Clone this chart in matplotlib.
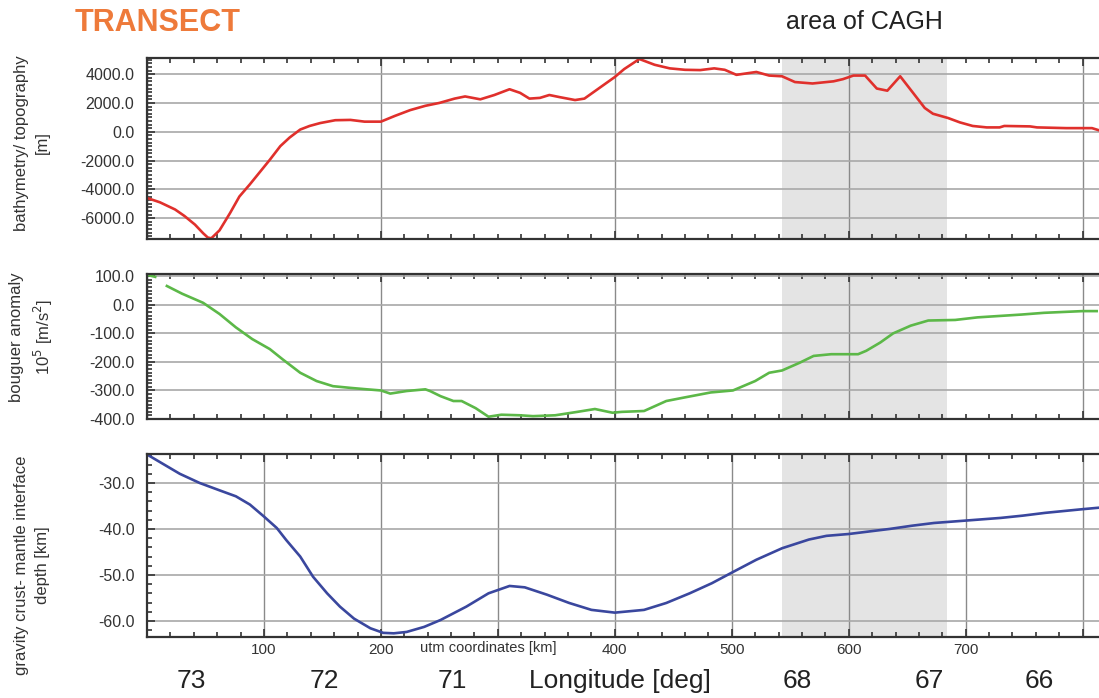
import matplotlib.pyplot as plt
from matplotlib.ticker import MultipleLocator, FormatStrFormatter
import matplotlib.transforms as mtransforms
import numpy as np

plt.rcParams['font.family'] = ['Liberation Sans', 'DejaVu Sans']

# bathymetry / topography [m] along the transect (utm km)
topo_km = [0, 11, 24, 32, 41, 48, 52, 55, 62, 71, 79, 88, 97, 105, 114, 122, 131, 139, 148,
           161, 174, 186, 200, 212, 225, 238, 250, 263, 272, 285, 297, 310, 319, 327, 336,
           344, 353, 366, 374, 387, 400, 408, 421, 434, 447, 460, 473, 485, 494, 504, 521,
           532, 543, 554, 569, 587, 595, 604, 614, 624, 633, 644, 655, 665, 672, 685, 695,
           706, 718, 729, 733, 755, 761, 786, 808, 814]
topo_m = [-4600, -4900, -5400, -5850, -6450, -7050, -7350, -7400, -6850, -5650, -4500, -3650,
          -2750, -1950, -1000, -400, 150, 400, 600, 800, 820, 700, 700, 1100, 1500, 1800,
          2000, 2300, 2450, 2250, 2550, 2950, 2700, 2300, 2350, 2550, 2400, 2200, 2300,
          3050, 3800, 4350, 5050, 4650, 4400, 4300, 4280, 4400, 4300, 3950, 4150, 3900,
          3850, 3450, 3350, 3500, 3650, 3900, 3900, 3000, 2850, 3850, 2700, 1650, 1250, 950,
          650, 400, 300, 300, 400, 370, 300, 250, 250, 100]

# bouguer anomaly [10^5 m/s^2]  (nan = gap in the profile)
boug_km = [0, 7, 12, 17, 30, 48, 62, 76, 90, 105, 116, 131, 145, 159, 174, 188, 200, 208,
           222, 238, 242, 251, 262, 269, 281, 292, 303, 319, 330, 349, 368, 383, 398, 406,
           425, 444, 459, 482, 501, 520, 532, 543, 558, 570, 585, 608, 615, 627, 638, 653,
           668, 691, 710, 748, 767, 800, 812]
boug_val = [105, 98, np.nan, 66, 39, 7, -32, -79, -120, -155, -191, -238, -267, -285, -291,
            -296, -300, -311, -302, -296, -302, -320, -337, -337, -362, -392, -385, -387,
            -390, -387, -375, -365, -378, -375, -372, -337, -325, -307, -300, -267, -238,
            -230, -203, -179, -173, -173, -161, -132, -100, -73, -55, -53, -44, -34, -28,
            -22, -22]

# gravity crust-mantle interface depth [km]
moho_km = [0, 12, 28, 45, 62, 76, 88, 100, 111, 119, 131, 142, 154, 165, 177, 191, 202, 211,
           222, 237, 251, 273, 292, 310, 323, 342, 361, 380, 400, 425, 444, 464, 483, 500,
           521, 543, 566, 581, 600, 619, 635, 654, 673, 699, 730, 749, 768, 800, 813]
moho_depth = [-23.8, -25.6, -28.0, -30.0, -31.6, -32.9, -34.7, -37.3, -39.8, -42.4, -46.0,
              -50.4, -54.0, -56.9, -59.5, -61.6, -62.6, -62.7, -62.4, -61.3, -59.8, -56.9,
              -54.0, -52.4, -52.7, -54.3, -56.1, -57.6, -58.2, -57.6, -56.1, -54.0, -51.8,
              -49.5, -46.7, -44.2, -42.3, -41.5, -41.1, -40.5, -40.0, -39.3, -38.7, -38.2,
              -37.6, -37.1, -36.5, -35.7, -35.4]

cagh_span = [543, 684]
x_ticks = [100, 200, 300, 400, 500, 600, 700, 800]
x_ticklabels = ['100', '200', '', '400', '500', '600', '700', '']
lon_pos = [38, 152, 261, 556, 669, 763]
lon_labels = ['73', '72', '71', '68', '67', '66']

W, H = 1099, 698
fig = plt.figure(figsize=(W / 100, H / 100), dpi=100)

def axbox(top, bottom, left=147, right=1099):
    return [left / W, 1 - bottom / H, (right - left) / W, (bottom - top) / H]

ax1 = fig.add_axes(axbox(58, 239))
ax2 = fig.add_axes(axbox(274, 419))
ax3 = fig.add_axes(axbox(454, 637))

ax1.plot(topo_km, topo_m, color='#e0302c', lw=1.9)
ax2.plot(boug_km, boug_val, color='#5cb848', lw=1.9)
ax3.plot(moho_km, moho_depth, color='#3a479e', lw=1.9)

ax1.set_ylim(-7450, 5120)
ax2.set_ylim(-400, 108)
ax3.set_ylim(-63.5, -23.7)

ax1.yaxis.set_major_locator(MultipleLocator(2000))
ax1.yaxis.set_minor_locator(MultipleLocator(250))
ax2.yaxis.set_major_locator(MultipleLocator(100))
ax2.yaxis.set_minor_locator(MultipleLocator(12.5))
ax3.yaxis.set_major_locator(MultipleLocator(10))
ax3.yaxis.set_minor_locator(MultipleLocator(2))

for ax in (ax1, ax2, ax3):
    ax.set_xlim(0, 814)
    ax.axvspan(cagh_span[0], cagh_span[1], color='#e4e4e4', zorder=0, lw=0)
    ax.xaxis.set_minor_locator(MultipleLocator(20))
    ax.yaxis.set_major_formatter(FormatStrFormatter('%.1f'))
    ax.tick_params(which='both', direction='in', top=True, bottom=True, left=True,
                   right=False, color='#333333', width=1.2)
    ax.tick_params(which='major', length=6, labelsize=11.5, pad=9, labelcolor='#333333')
    ax.tick_params(which='minor', length=3.5)
    ax.grid(True, which='major', axis='y', color='#a8a8a8', lw=1.2)
    for side in ('left', 'top', 'bottom'):
        ax.spines[side].set_color('#333333')
        ax.spines[side].set_linewidth(1.6)
    ax.spines['right'].set_visible(False)
    ax.set_axisbelow(True)

for ax in (ax1, ax2):
    ax.xaxis.set_major_locator(MultipleLocator(200))
    ax.tick_params(axis='x', labelbottom=False)
    ax.grid(True, which='major', axis='x', color='#8a8a8a', lw=1.0)

ax3.set_xticks(x_ticks)
ax3.set_xticklabels(x_ticklabels)
ax3.tick_params(axis='x', labelsize=11, pad=4)
ax3.grid(True, which='major', axis='x', color='#8a8a8a', lw=1.0)

trans = mtransforms.blended_transform_factory(ax3.transData, fig.transFigure)
ax3.text(292, 1 - 648 / H, 'utm coordinates [km]', transform=trans, fontsize=10.5,
         ha='center', va='center', color='#333333')
for pos, lab in zip(lon_pos, lon_labels):
    ax3.text(pos, 1 - 681 / H, lab, transform=trans, fontsize=19, ha='center',
             va='center', color='#222222')
ax3.text(404, 1 - 681 / H, 'Longitude [deg]', transform=trans, fontsize=19,
         ha='center', va='center', color='#222222')

ylab_kw = dict(rotation=90, ha='center', va='center', fontsize=12, multialignment='center',
               color='#333333', linespacing=1.45)
fig.text(32 / W, 1 - 143 / H, 'bathymetry/ topography\n[m]', **ylab_kw)
fig.text(32 / W, 1 - 337 / H, 'bouguer anomaly\n10$^5$ [m/s$^2$]', **ylab_kw)
fig.text(32 / W, 1 - 565 / H, 'gravity crust- mantle interface\ndepth [km]', **ylab_kw)

fig.text(75 / W, 1 - 23 / H, 'TRANSECT', fontsize=22, fontweight='bold', color='#ee7a3a',
         ha='left', va='center')
fig.text(864 / W, 1 - 22 / H, 'area of CAGH', fontsize=18, color='#222222',
         ha='center', va='center')

fig.savefig('out.png', dpi=100)
